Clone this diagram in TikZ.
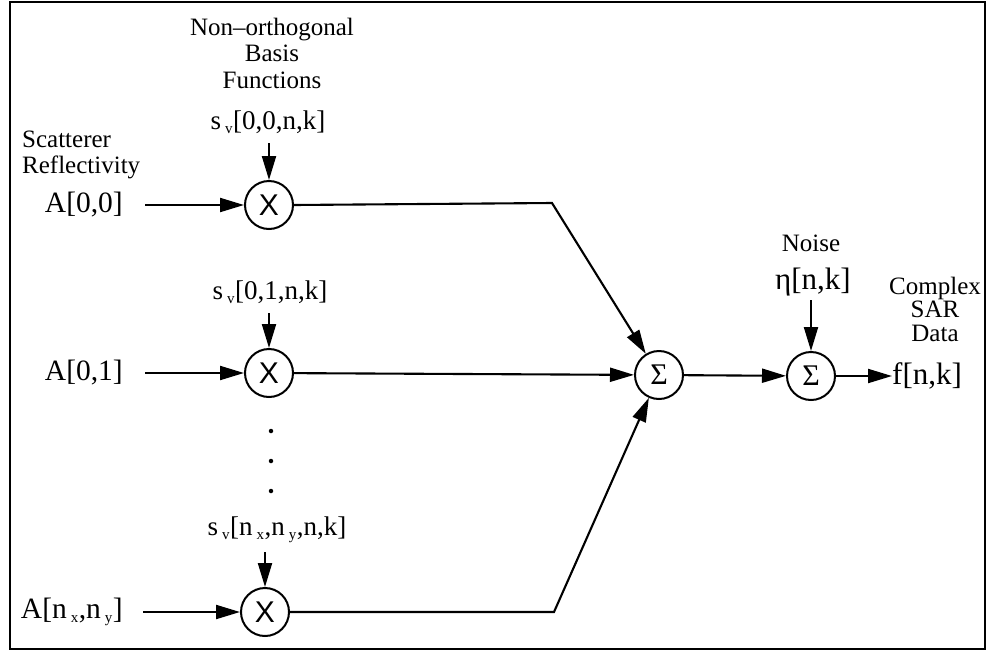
\documentclass[tikz,border=0pt]{standalone}
\usepackage{fontspec}
\setmainfont{Liberation Serif}
\newfontfamily\sansx{Liberation Sans}
\usetikzlibrary{arrows.meta}
\newcommand\lowsub[1]{\kern4pt\raisebox{-4pt}{\fontsize{15}{15}\selectfont #1}\kern0.5pt}
\tikzset{
  wire/.style={line width=2.1pt},
  arr/.style={wire,-{Triangle[length=24pt,width=14pt]}},
  opnode/.style={circle,draw,line width=2pt,minimum size=48pt,inner sep=0pt},
  mathlbl/.style={font=\fontsize{27}{30}\selectfont,inner sep=0pt},
  wordlbl/.style={font=\fontsize{25}{26.5}\selectfont,inner sep=0pt,align=center},
  dotm/.style={circle,fill,inner sep=0pt,minimum size=4.5pt}
}
\begin{document}
\begin{tikzpicture}[x=1pt,y=-1pt]
\useasboundingbox (0,0) rectangle (986,654);
\draw[line width=2pt] (10,2) rectangle (985,649);

% operator nodes
\node[opnode,font=\sansx\fontsize{30}{30}\selectfont] (m1) at (269,205) {X};
\node[opnode,font=\sansx\fontsize{30}{30}\selectfont] (m2) at (269,373) {X};
\node[opnode,font=\sansx\fontsize{30}{30}\selectfont] (m3) at (265,612) {X};
\node[opnode,font=\fontsize{30}{30}\selectfont] (s1) at (659,375) {Σ};
\node[opnode,font=\fontsize{30}{30}\selectfont] (s2) at (811,376) {Σ};

% labels
\node[wordlbl] (basis) at (272,53) {Non–orthogonal\\Basis\\Functions};
\node[mathlbl] (sv1) at (268,122) {s\lowsub{v}[0,0,n,k]};
\node[mathlbl] (sv2) at (270,292) {s\lowsub{v}[0,1,n,k]};
\node[mathlbl] (sv3) at (277,530) {s\lowsub{v}[n\lowsub{x},n\lowsub{y},n,k]};
\node[wordlbl,align=left,anchor=west] (scat) at (22,155) {Scatterer\\Reflectivity};
\node[mathlbl,anchor=east,font=\fontsize{29.5}{30}\selectfont] (a1) at (123,205) {A[0,0]};
\node[mathlbl,anchor=east,font=\fontsize{29.5}{30}\selectfont] (a2) at (123,373) {A[0,1]};
\node[mathlbl,anchor=east,font=\fontsize{29.5}{30}\selectfont] (a3) at (123,612) {A[n\lowsub{x},n\lowsub{y}]};
\node[wordlbl] (noise) at (811,243) {Noise};
\node[mathlbl,font=\fontsize{31}{31}\selectfont] (eta) at (813,282) {η[n,k]};
\node[wordlbl,font=\fontsize{25}{23.5}\selectfont] (sar) at (935,309) {Complex\\SAR\\Data};
\node[mathlbl,anchor=west,font=\fontsize{31}{31}\selectfont] (f) at (892,376) {f[n,k]};

% dots
\node[dotm] (d1) at (271,431) {};
\node[dotm] (d2) at (271,461) {};
\node[dotm] (d3) at (271,491) {};

% free ends
\coordinate (a1s) at (145,205);
\coordinate (a2s) at (145,373);
\coordinate (a3s) at (143,612);
\coordinate (sv1s) at (269,143);
\coordinate (sv2s) at (269,313);
\coordinate (sv3s) at (265,552);
\coordinate (etas) at (811,300);
\coordinate (b1) at (552,203);
\coordinate (b3) at (554,612);

% connectors
\draw[arr] (a1s) -- (m1);
\draw[arr] (a2s) -- (m2);
\draw[arr] (a3s) -- (m3);
\draw[arr] (sv1s) -- (m1);
\draw[arr] (sv2s) -- (m2);
\draw[arr] (sv3s) -- (m3);
\draw[arr] (m1.east) -- (b1) -- (s1);
\draw[arr] (m2) -- (s1);
\draw[arr] (m3.east) -- (b3) -- (s1);
\draw[arr] (s1) -- (s2);
\draw[arr] (etas) -- (s2);
\draw[arr] (s2) -- (f.west);
\end{tikzpicture}
\end{document}
